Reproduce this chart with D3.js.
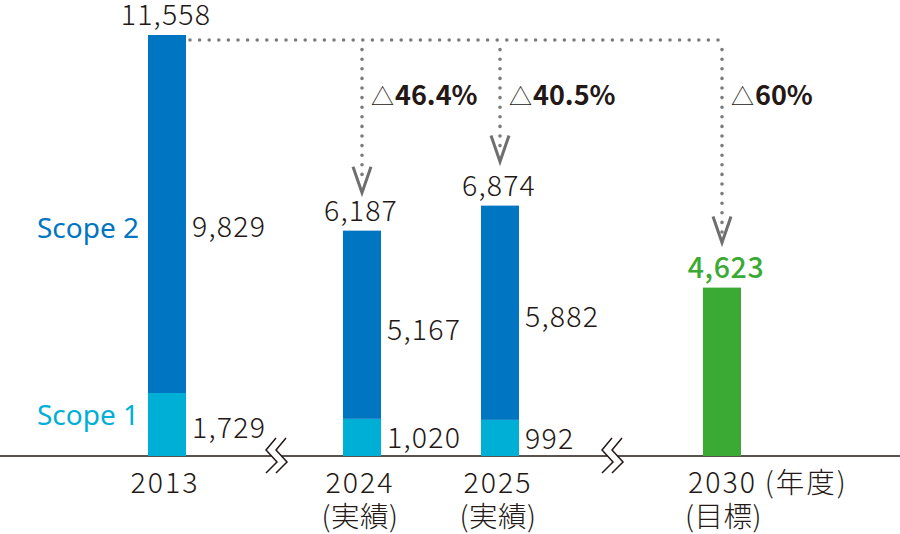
<!DOCTYPE html>
<html><head><meta charset="utf-8">
<script src="https://cdn.jsdelivr.net/npm/d3@7"></script>
<style>
html,body{margin:0;padding:0;background:#fff;}
svg{display:block;}
text{font-family:"Noto Sans CJK JP","Noto Sans",sans-serif;}
</style></head>
<body>
<svg id="chart" width="900" height="534"></svg>
<script>
// ---- data ----
const categories = ["2013", "2024", "2025", "2030"];
const subLabels = ["", "(実績)", "(実績)", "(目標)"];
const yearSuffix = ["", "", "", "\u2009(年度)"];
const scope1 = [1729, 1020, 992, null];
const scope2 = [9829, 5167, 5882, null];
const totals = [11558, 6187, 6874, 4623];
const reductionLabels = [null, "46.4%", "40.5%", "60%"];
const seriesNames = ["Scope 1", "Scope 2"];

// ---- layout ----
const svg = d3.select("#chart");
const baseY = 456;
const barW = 38;
const x = d3.scaleOrdinal().domain(categories).range([167, 362, 500, 722]);
const y = d3.scaleLinear().domain([0, 11558]).range([baseY, 35]);
const C = {s2: "#0075C2", s1: "#00AFD6", target: "#3AAA35", text: "#231815", dot: "#7b7b7b"};
const numFont = {size: 28.5, weight: 300};

// baseline
svg.append("line").attr("x1", 0).attr("x2", 900).attr("y1", baseY).attr("y2", baseY)
  .attr("stroke", C.text).attr("stroke-width", 1.6);

// bars
categories.forEach((c, i) => {
  const cx = x(c);
  if (scope1[i] != null) {
    svg.append("rect").attr("x", cx - barW / 2).attr("width", barW)
      .attr("y", y(scope1[i])).attr("height", baseY - y(scope1[i])).attr("fill", C.s1);
    svg.append("rect").attr("x", cx - barW / 2).attr("width", barW)
      .attr("y", y(scope1[i] + scope2[i])).attr("height", y(scope1[i]) - y(scope1[i] + scope2[i])).attr("fill", C.s2);
  } else {
    svg.append("rect").attr("x", cx - barW / 2).attr("width", barW)
      .attr("y", y(totals[i])).attr("height", baseY - y(totals[i])).attr("fill", C.target);
  }
});

function num(v) { return d3.format(",")(v); }
function txt(xp, yp, s, opts = {}) {
  return svg.append("text").attr("x", xp).attr("y", yp).text(s)
    .attr("fill", opts.fill || C.text)
    .attr("font-size", opts.size || numFont.size)
    .attr("font-weight", opts.weight || numFont.weight)
    .attr("text-anchor", opts.anchor || "start")
    .attr("letter-spacing", opts.ls != null ? opts.ls : 1.2);
}

// total labels
categories.forEach((c, i) => {
  const isT = scope1[i] == null;
  txt(x(c) + (isT ? 4 : -1), y(totals[i]) - 10, num(totals[i]),
    {anchor: "middle", fill: isT ? C.target : C.text, weight: isT ? 500 : 300, ls: isT ? 0.6 : 1.2});
});

// segment labels
const segOffset2 = [13, 5, 4];
const segOffset1 = [3, 1, 1];
categories.forEach((c, i) => {
  if (scope1[i] == null) return;
  const lx = x(c) + barW / 2 + 6;
  const m2 = (y(scope1[i]) + y(scope1[i] + scope2[i])) / 2 + segOffset2[i];
  const m1 = (baseY + y(scope1[i])) / 2 + segOffset1[i];
  txt(lx, m2 + 10, num(scope2[i]));
  txt(lx, m1 + 10, num(scope1[i]));
});

// series names
const bx = x(categories[0]) - barW / 2 - 9;
txt(bx, 238, seriesNames[1], {anchor: "end", fill: C.s2, weight: 400, ls: 0, size: 28})
  .style("font-family", '"Noto Sans",sans-serif');
txt(bx, 425, seriesNames[0], {anchor: "end", fill: C.s1, weight: 400, ls: 0, size: 28})
  .style("font-family", '"Noto Sans",sans-serif');

// dotted reduction arrows
const lineY = 40;
const startX = x(categories[0]) + barW / 2 + 4;
const tipOffset = [0, 38, 44, 45];
svg.append("line").attr("x1", startX).attr("x2", x(categories[3])).attr("y1", lineY).attr("y2", lineY)
  .attr("stroke", C.dot).attr("stroke-width", 3.6).attr("stroke-linecap", "round")
  .attr("stroke-dasharray", "0 9.6");
categories.forEach((c, i) => {
  if (!reductionLabels[i]) return;
  const cx = x(c);
  const tip = y(totals[i]) - tipOffset[i];
  svg.append("line").attr("x1", cx).attr("x2", cx).attr("y1", lineY + 9.6).attr("y2", tip - 10)
    .attr("stroke", C.dot).attr("stroke-width", 3.6).attr("stroke-linecap", "round")
    .attr("stroke-dasharray", "0 9.6");
  svg.append("path").attr("d", `M${cx - 9},${tip - 26}L${cx},${tip}L${cx + 9},${tip - 26}`)
    .attr("fill", "none").attr("stroke", "#6e6e6e").attr("stroke-width", 3);
  const t = svg.append("text").attr("x", cx + 9).attr("y", 105).attr("fill", C.text)
    .attr("font-size", 27);
  t.append("tspan").text("△").attr("font-weight", 300).attr("font-size", 23);
  t.append("tspan").text(reductionLabels[i]).attr("font-weight", 700).attr("dx", 1);
});

// axis break marks
function breakMark(cx) {
  const g = svg.append("g");
  g.append("rect").attr("x", cx - 4.5).attr("y", baseY - 2).attr("width", 10).attr("height", 4).attr("fill", "#fff");
  [0, 10].forEach(dx => {
    g.append("path").attr("d", `M${cx + dx},438L${cx + dx - 10},450L${cx + dx + 1},462L${cx + dx - 10},473`)
      .attr("fill", "none").attr("stroke", C.text).attr("stroke-width", 1.5);
  });
}
breakMark(276);
breakMark(612);

// x labels
categories.forEach((c, i) => {
  const last = i === categories.length - 1;
  const lx = last ? x(c) - 34 : x(c) - 2;
  const anchor = last ? "start" : "middle";
  txt(lx, 493, c + yearSuffix[i], {anchor, ls: 2});
  if (subLabels[i]) txt(lx - (last ? 3 : 0), 526.5, subLabels[i], {anchor, ls: 0.5});
});
</script>
</body></html>
